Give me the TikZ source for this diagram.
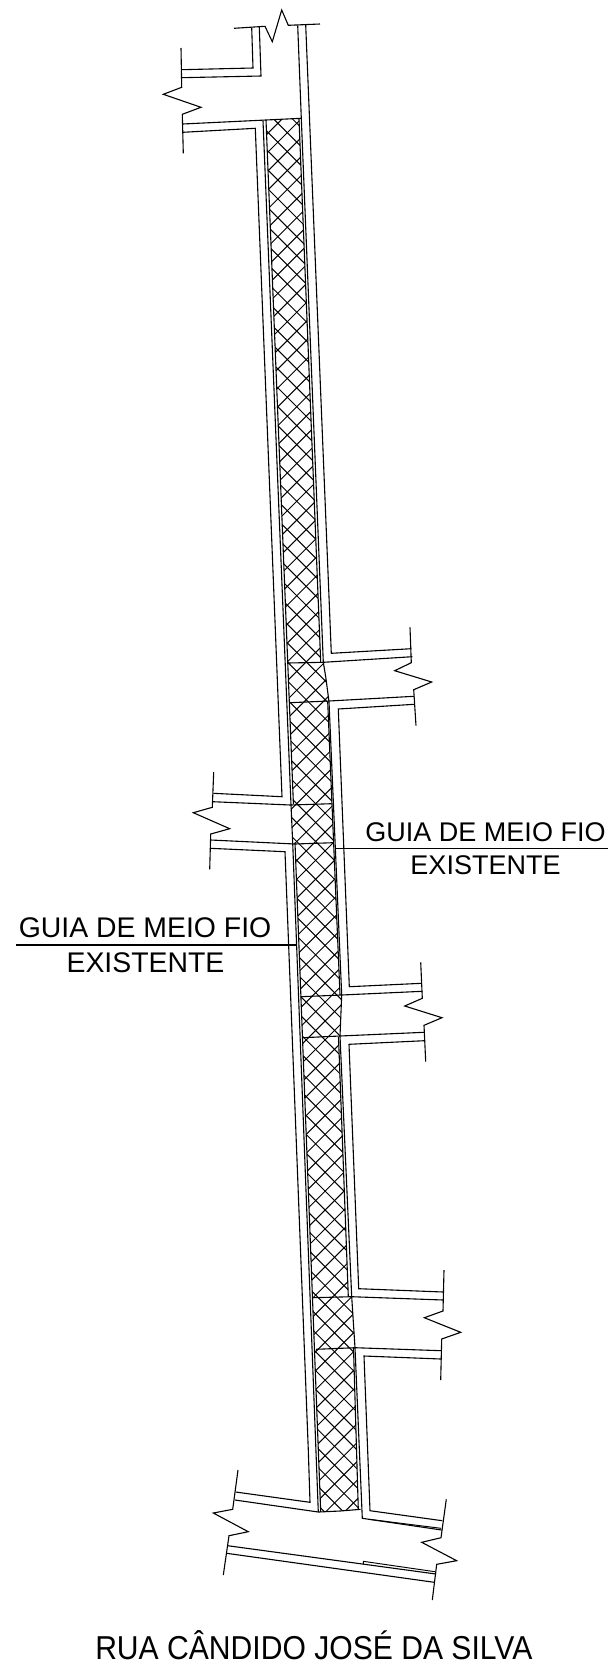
\documentclass[tikz,border=0pt]{standalone}
\usepackage{graphicx}
\usepackage{fontspec}
\setmainfont{Liberation Sans}
\tikzset{
  wall/.style={draw=black,line width=1.1pt,line join=miter},
  hatchline/.style={draw=black,line width=1pt},
  thin wall/.style={draw=black,line width=0.95pt},
  label/.style={inner sep=0pt,anchor=base,align=center},
}
\begin{document}
\begin{tikzpicture}[x=1pt,y=-1pt]
\useasboundingbox (0,0) rectangle (608,1663);
% hatch
\begin{scope}
\clip (263,120.7) -- (301.3,118.3) -- (299,119) -- (320.7,662.3) -- (323.3,662.3) -- (325.7,676.7) -- (329,701.7) -- (327.7,701.7) -- (340,995) -- (341.7,995) -- (340,1036) -- (338.5,1037) -- (348.3,1296.7) -- (351.7,1296.7) -- (355,1347.7) -- (353.5,1348) -- (358.3,1509.5) -- (340,1511) -- (320.7,1512) -- (295,842.7) -- (292.7,843) -- (291,805) -- (293.4,804) -- (266,120) -- cycle;
\foreach \k in {-75,...,6} {
  \pgfmathsetmacro{\c}{154.6+\k*18.9}
  \draw[hatchline] (255,{255-\c}) -- (370,{370-\c});
}
\foreach \k in {-3,...,80} {
  \pgfmathsetmacro{\c}{420+\k*18.9}
  \draw[hatchline] (255,{\c-255}) -- (370,{\c-370});
}
\end{scope}
% top
\draw[wall] (234,28.3) -- (265,26.3) -- (272.3,41.7) -- (281.7,10) -- (288.3,25.3) -- (320,24);
\draw[wall] (251.7,27.7) -- (253,68) -- (181.3,69.7);
\draw[wall] (259.3,27) -- (261,76) -- (181.3,77.7);
\draw[wall] (181,48) -- (181.7,87.3) -- (163.3,94.3) -- (201,107.3) -- (182.3,114.3) -- (183.3,153.3);
\draw[wall] (182.7,124) -- (301.3,118.3);
% left long walls
\draw[wall] (182.7,132.3) -- (255.3,128.3) -- (282,796.7) -- (213.3,793.3);
\draw[wall] (263,120.7) -- (291,805) -- (292.7,843) -- (318.3,1512);
\draw[wall] (266,120) -- (293.4,804);
\draw[wall] (295,842.7) -- (320.7,1512);
% right long walls
\draw[wall] (299,119) -- (320.7,662.3);
\draw[wall] (297.7,25.3) -- (301.3,118.3) -- (323.3,662.3) -- (325.7,676.7) -- (329,701.7) -- (341.7,995) -- (340,1036) -- (351.7,1296.7) -- (355,1347.7) -- (362.3,1518.3) -- (441.7,1530);
\draw[wall] (327.7,701.7) -- (340,995);
\draw[wall] (338.5,1037) -- (348.3,1296.7);
\draw[wall] (353.5,1348) -- (358.3,1509.5);
\draw[wall] (305.7,25) -- (331.3,653.3) -- (411.3,648.7);
% entry 1
\draw[wall] (287.7,663) -- (323.3,662.3) -- (412.3,656.7);
\draw[wall] (410,627.3) -- (411.3,662.7) -- (394.7,670.7) -- (431.7,682) -- (413.7,689.7) -- (416,725.7);
\draw[wall] (289.7,702.7) -- (329,701) -- (414,696.3);
\draw[wall] (414.3,704.3) -- (338.3,709) -- (349.3,986.7) -- (421.7,983.3);
% entry 2
\draw[wall] (213.7,772) -- (212.3,807.3) -- (193.3,812.7) -- (229.7,828.7) -- (210.7,834) -- (209.7,869.3);
\draw[wall] (212.7,801.7) -- (290.7,805) -- (331.7,803.7);
\draw[wall] (210.7,840) -- (295,844) -- (333.3,842.7);
\draw[wall] (210,848.3) -- (285,851.7) -- (308.3,1450) -- (310,1502.3) -- (235.7,1492);
% entry 3
\draw[wall] (300.7,996.7) -- (341.7,995) -- (422.3,991.3);
\draw[wall] (420.7,962.3) -- (422.3,998.3) -- (404.7,1006) -- (442,1017.7) -- (424,1025.3) -- (425.7,1061.7);
\draw[wall] (302.7,1037.7) -- (340,1036) -- (424,1032.3);
\draw[wall] (424.3,1040.7) -- (349,1044.3) -- (358.7,1288.7) -- (443.3,1292);
% entry 4
\draw[wall] (313.3,1297.7) -- (351.7,1296.7) -- (443.3,1300);
\draw[wall] (444,1270) -- (443,1311) -- (424.3,1317.7) -- (460.7,1332.3) -- (441.7,1339) -- (440.7,1380);
\draw[wall] (316,1349.3) -- (355,1347.7) -- (441.7,1350.7);
\draw[wall] (441,1359) -- (364,1356) -- (370,1510.7) -- (442.3,1520.7);
% bottom
\draw[wall] (238,1470) -- (232.7,1509.3) -- (213.3,1513) -- (248.3,1531.7) -- (229,1535.7) -- (223.3,1575);
\draw[wall] (235,1500) -- (318.3,1512) -- (340,1511) -- (360.7,1509.3);
\draw[thin wall] (369.3,1519.3) -- (441,1528.3);
\draw[wall] (446.3,1499.3) -- (441,1537.7) -- (421.7,1542.3) -- (456.7,1560.7) -- (436.7,1564.3) -- (432.3,1600);
\draw[wall] (227.7,1545.7) -- (436,1574);
\draw[wall] (226.7,1553.3) -- (434.3,1582.3);
\draw[thin wall] (363.3,1564) -- (363.3,1561.3) -- (435,1571.7);
% labels
\node[label,font=\fontsize{27}{30}\selectfont] (g1) at (485.5,841.7) {GUIA DE MEIO FIO};
\node[label,font=\fontsize{27}{30}\selectfont] (e1) at (485.5,874) {EXISTENTE};
\node[label,font=\fontsize{28.4}{30}\selectfont] (g2) at (145,937.7) {GUIA DE MEIO FIO};
\node[label,font=\fontsize{28.4}{30}\selectfont] (e2) at (145.5,972.7) {EXISTENTE};
\node[label,font=\fontsize{30.1}{32}\selectfont] (r) at (313.8,1659) {\scalebox{1}[1.1]{RUA CÂNDIDO JOSÉ DA SILVA}};
\coordinate (l1a) at (335.7,848.3);
\coordinate (l1b) at (608,848.3);
\coordinate (l2a) at (16,945);
\coordinate (l2b) at (296.5,945);
\draw[wall] (l1a) -- (l1b);
\draw[wall] (l2a) -- (l2b);
\end{tikzpicture}
\end{document}
